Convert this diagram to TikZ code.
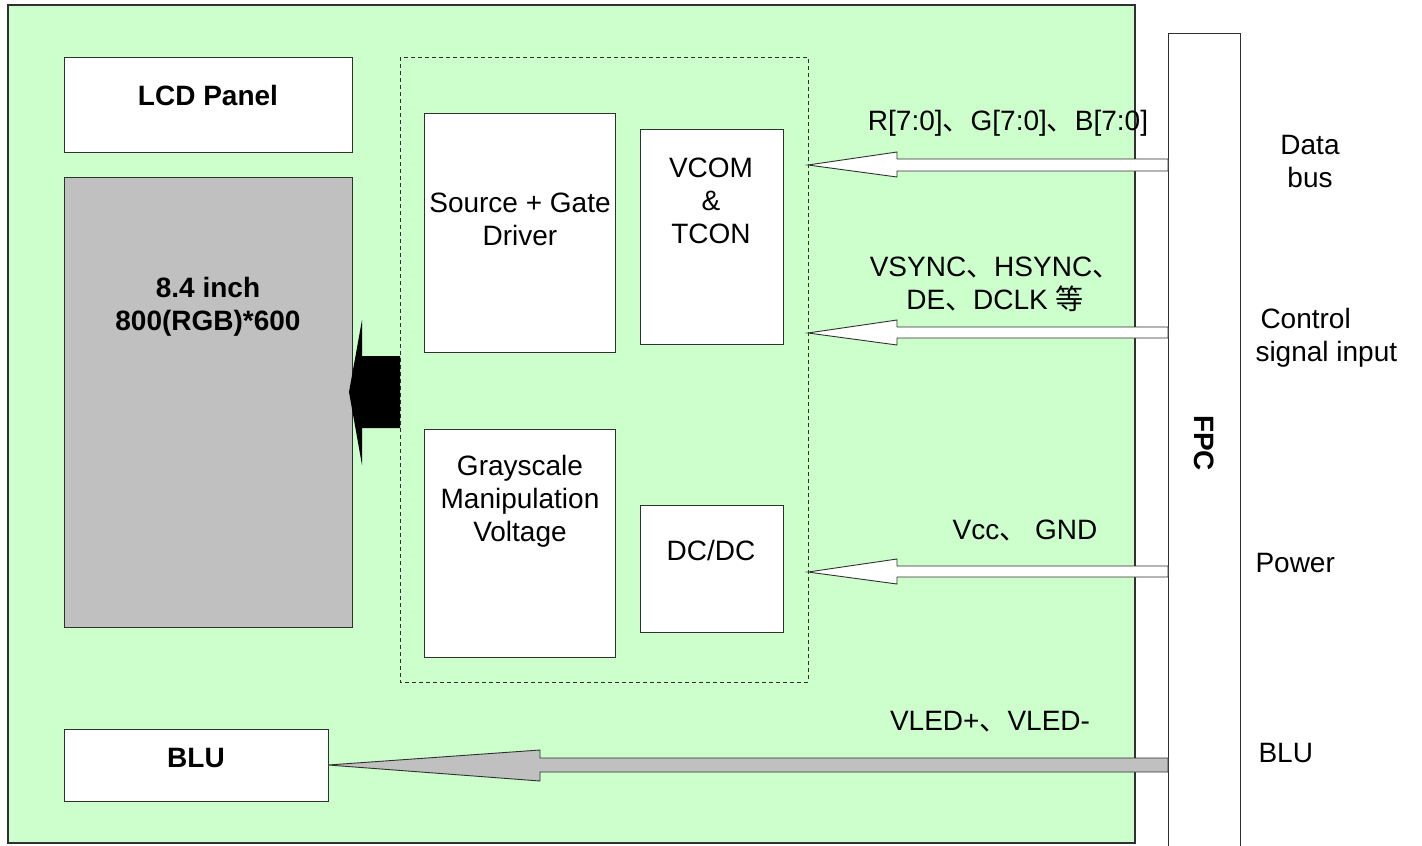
\documentclass[tikz,border=0pt]{standalone}
\usepackage{fontspec}
\setmainfont{Liberation Sans}
\newfontfamily\cjk{Noto Sans CJK SC}
\definecolor{boardgreen}{HTML}{CCFFCC}
\definecolor{panelgray}{HTML}{C0C0C0}
\definecolor{edge}{HTML}{303030}
\begin{document}
\begin{tikzpicture}[x=1pt,y=-1pt,line width=1pt,
  box/.style={draw=edge,fill=white},
  txt/.style={font=\fontsize{28}{33}\selectfont,align=center,inner sep=0pt,text=black},
  btxt/.style={txt,font=\fontsize{28}{33}\selectfont\bfseries},
  ltxt/.style={txt,align=left,anchor=west},
  blockarrow/.style={draw=edge,fill=white,line width=0.9pt,line join=miter}]
\useasboundingbox (0,0) rectangle (1422,846);
\fill[white] (0,0) rectangle (1422,846);
% board
\draw[fill=boardgreen,draw=edge,line width=1.2pt] (8,5) rectangle (1135,843);
% FPC
\draw[box] (1168,33) rectangle (1240,850);
\node[btxt,rotate=-90] (fpc) at (1204,443) {FPC};
% LCD panel
\draw[box] (64,57) rectangle (352,152);
\node[btxt] (lcd) at (208,95) {LCD Panel};
\draw[draw=edge,fill=panelgray] (64,177) rectangle (352,627);
\node[btxt] (panel) at (208,307) {8.4 inch\\800(RGB)*600};
% dashed driver region
\draw[draw=edge,dash pattern=on 4pt off 3pt] (400,57) rectangle (808,682);
\draw[box] (424,113) rectangle (615,352);
\node[txt] (drv) at (520,219) {Source + Gate\\Driver};
\draw[box] (640,129) rectangle (783,344);
\node[txt] (tcon) at (711,201) {VCOM\\\&\\TCON};
\draw[box] (424,429) rectangle (615,657);
\node[txt] (gray) at (520,501) {Grayscale\\Manipulation\\Voltage};
\draw[box] (640,505) rectangle (783,632);
\node[txt] (dcdc) at (711,550) {DC/DC};
% BLU
\draw[box] (64,729) rectangle (328,801);
\node[btxt] (blu) at (196,758) {BLU};
% big black arrow
\fill[black] (349,392) -- (362,320) -- (362,356) -- (400,356) -- (400,428) -- (362,428) -- (362,465) -- cycle;
% signal arrows
\draw[blockarrow] (808,165) -- (897,152) -- (897,159) -- (1168,159) -- (1168,171) -- (897,171) -- (897,177) -- cycle;
\draw[blockarrow] (808,333) -- (897,320) -- (897,327) -- (1168,327) -- (1168,338) -- (897,338) -- (897,345) -- cycle;
\draw[blockarrow] (808,572) -- (897,559) -- (897,566) -- (1168,566) -- (1168,577) -- (897,577) -- (897,584) -- cycle;
\draw[blockarrow,fill=panelgray] (328,765) -- (540,750) -- (540,758) -- (1168,758) -- (1168,772) -- (540,772) -- (540,781) -- cycle;
% labels
\node[txt] (rgb) at (1008,123) {R[7:0]{\cjk 、}G[7:0]{\cjk 、}B[7:0]};
\node[txt] (sync) at (995,284) {VSYNC{\cjk 、}HSYNC{\cjk 、}\\DE{\cjk 、}DCLK {\cjk 等}};
\node[txt] (pwr) at (1025,531) {Vcc{\cjk 、} GND};
\node[txt] (vled) at (990,722) {VLED+{\cjk 、}VLED-};
\node[txt] (databus) at (1310,162) {Data\\bus};
\node[ltxt] (ctrl) at (1255,338) {\hspace*{5pt}Control\\signal input};
\node[ltxt] (power) at (1255,563) {Power};
\node[ltxt] (blulbl) at (1258,753) {BLU};
\end{tikzpicture}
\end{document}
